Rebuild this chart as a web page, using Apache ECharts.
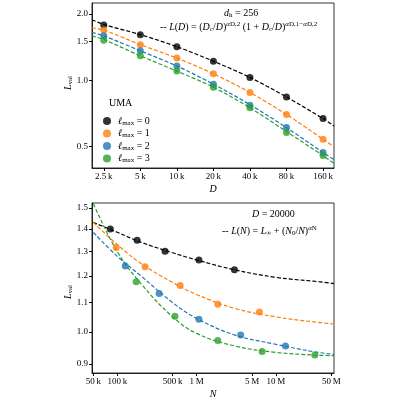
<!DOCTYPE html>
<html><head><meta charset="utf-8">
<script src="https://cdn.jsdelivr.net/npm/echarts@6/dist/echarts.min.js"></script>
<style>html,body{margin:0;padding:0;background:#fff}#c{width:400px;height:400px}</style>
</head><body><div id="c"></div>
<script>
// ---- top panel data ----
const D = [2500, 5000, 10000, 20000, 40000, 80000, 160000];
const topL0 = [1.78, 1.61, 1.42, 1.22, 1.03, 0.84, 0.67];
const topL1 = [1.69, 1.45, 1.26, 1.07, 0.88, 0.70, 0.54];
const topL2 = [1.59, 1.36, 1.16, 0.96, 0.77, 0.61, 0.47];
const topL3 = [1.52, 1.29, 1.10, 0.93, 0.75, 0.58, 0.456];
const fitD = [2000, 2500, 5000, 10000, 20000, 40000, 80000, 160000, 197000];
const fitTop0 = [1.88, 1.79, 1.61, 1.42, 1.22, 1.03, 0.84, 0.67, 0.62];
const fitTop1 = [1.73, 1.69, 1.45, 1.26, 1.07, 0.88, 0.70, 0.54, 0.50];
const fitTop2 = [1.65, 1.59, 1.36, 1.16, 0.96, 0.775, 0.61, 0.47, 0.437];
const fitTop3 = [1.59, 1.53, 1.29, 1.10, 0.93, 0.75, 0.585, 0.455, 0.42];
const topXTicks = [2500, 5000, 10000, 20000, 40000, 80000, 160000];
const topXLabels = ['2.5\u2009k', '5\u2009k', '10\u2009k', '20\u2009k', '40\u2009k', '80\u2009k', '160\u2009k'];
const topYTicks = [0.5, 1.0, 1.5, 2.0];
const topYLabels = ['0.5', '1.0', '1.5', '2.0'];
// ---- bottom panel data ----
const N0 = [81700, 178000, 400000, 1070000, 3000000];
const B0 = [1.40, 1.349, 1.302, 1.265, 1.225];
const N1 = [97000, 224000, 620000, 1850000, 6200000];
const B1 = [1.318, 1.237, 1.164, 1.094, 1.067];
const N2 = [126000, 337000, 1070000, 3600000, 13200000];
const B2 = [1.24, 1.134, 1.042, 0.99, 0.955];
const N3 = [173000, 534000, 1850000, 6700000, 31000000];
const B3 = [1.178, 1.052, 0.972, 0.938, 0.927];
const fitN = [50000, 100000, 200000, 500000, 1000000, 3000000, 10000000, 30000000, 54000000];
const fitB0 = [1.43, 1.385, 1.34, 1.295, 1.265, 1.225, 1.195, 1.18, 1.171];
const fitB1 = [1.43, 1.33, 1.25, 1.175, 1.13, 1.08, 1.05, 1.033, 1.026];
const fitB2 = [1.384, 1.28, 1.2, 1.1, 1.045, 0.99, 0.96, 0.937, 0.929];
const fitB3 = [1.52, 1.30, 1.17, 1.05, 0.995, 0.955, 0.935, 0.927, 0.925];
const botXTicks = [50000, 100000, 500000, 1000000, 5000000, 10000000, 50000000];
const botXLabels = ['50\u2009k', '100\u2009k', '500\u2009k', '1\u2009M', '5\u2009M', '10\u2009M', '50\u2009M'];
const botYTicks = [0.9, 1.0, 1.1, 1.2, 1.3, 1.4, 1.5];
const botYLabels = ['0.9', '1.0', '1.1', '1.2', '1.3', '1.4', '1.5'];

const lg = Math.log10;
const colors = ['#000000', '#ff7f0e', '#1f77b4', '#2ca02c'];
const FONT = 'Liberation Serif';
const pair = (xs, ys) => xs.map((x, i) => [lg(x), lg(ys[i])]);
function lab(ticks, labels) {
  const tv = ticks.map(lg);
  return v => { let b = 0; tv.forEach((t, i) => { if (Math.abs(t - v) < Math.abs(tv[b] - v)) b = i; }); return labels[b]; };
}
function axis(gi, ticks, labels, min, max, isX, name) {
  return {
    type: 'value', gridIndex: gi, min: lg(min), max: lg(max), name: name,
    nameLocation: 'middle', nameGap: 16,
    nameTextStyle: { fontFamily: FONT, fontStyle: 'italic', fontSize: 10, color: '#000' },
    axisLine: { show: true, onZero: false, lineStyle: { color: '#000', width: 0.8 } },
    axisTick: { show: true, length: 3, customValues: ticks.map(lg), lineStyle: { color: '#000' } },
    axisLabel: { customValues: ticks.map(lg), formatter: lab(ticks, labels), fontFamily: FONT, fontSize: 9, color: '#000', margin: 4 },
    splitLine: { show: false }
  };
}
const series = [];
const topPts = [topL0, topL1, topL2, topL3], topFits = [fitTop0, fitTop1, fitTop2, fitTop3];
const botNs = [N0, N1, N2, N3], botPts = [B0, B1, B2, B3], botFits = [fitB0, fitB1, fitB2, fitB3];
const names = ['l0', 'l1', 'l2', 'l3'];
for (let k = 0; k < 4; k++) {
  series.push({ type: 'scatter', name: names[k], xAxisIndex: 0, yAxisIndex: 0, data: pair(D, topPts[k]), symbolSize: 7, itemStyle: { color: colors[k] }, z: 3 });
  series.push({ type: 'line', xAxisIndex: 0, yAxisIndex: 0, data: pair(fitD, topFits[k]), smooth: 0.3, symbol: 'none', itemStyle: { color: colors[k] }, lineStyle: { color: colors[k], type: [4, 2], width: 1.2 }, z: 2 });
  series.push({ type: 'line', xAxisIndex: 1, yAxisIndex: 1, data: pair(fitN, botFits[k]), smooth: 0.4, symbol: 'none', itemStyle: { color: colors[k] }, lineStyle: { color: colors[k], type: [4, 2], width: 1.2 }, z: 2 });
  series.push({ type: 'scatter', xAxisIndex: 1, yAxisIndex: 1, data: pair(botNs[k], botPts[k]), symbolSize: 7, itemStyle: { color: colors[k] }, z: 3 });
}
const rich = { i: { fontFamily: FONT, fontStyle: 'italic', fontSize: 10, color: '#000' }, s: { fontFamily: FONT, fontSize: 7, color: '#000', padding: [4, 0, 0, 0] }, n: { fontFamily: FONT, fontSize: 10, color: '#000' }, u: { fontFamily: FONT, fontSize: 7, color: '#000', padding: [0, 0, 6, 0] }, ui: { fontFamily: FONT, fontStyle: 'italic', fontSize: 7, color: '#000', padding: [0, 0, 6, 0] } };
const chart = echarts.init(document.getElementById('c'));
chart.setOption({
  animation: false,
  color: colors,
  textStyle: { fontFamily: FONT },
  grid: [
    { left: 92, right: 66, top: 3, height: 165, show: true, borderColor: '#000', borderWidth: 0.8 },
    { left: 92, right: 66, top: 203, height: 173, show: true, borderColor: '#000', borderWidth: 0.8 }
  ],
  xAxis: [axis(0, topXTicks, topXLabels, 2000, 197000, true, 'D'), axis(1, botXTicks, botXLabels, 48000, 54000000, true, 'N')],
  yAxis: [axis(0, topYTicks, topYLabels, 0.40, 2.24, false, ''), axis(1, botYTicks, botYLabels, 0.874, 1.524, false, '')],
  legend: {
    left: 98, top: 111, orient: 'vertical', itemGap: 2, itemWidth: 12, itemHeight: 8,
    data: names.map(n => ({ name: n, icon: 'circle' })),
    formatter: n => '{i|\u2113}{s|max}{n| = ' + n.slice(1) + '}',
    textStyle: { rich: rich }
  },
  graphic: [
    { type: 'text', left: 109, top: 98, style: { text: 'UMA', font: '10px "Liberation Serif"', fill: '#000' } },
    { type: 'text', left: 224, top: 8, style: { text: '{i|d}{s|h}{n| = 256}', rich: rich } },
    { type: 'text', left: 160, top: 21, style: { text: '{n|-- }{i|L}{n|(}{i|D}{n|) = (}{i|D}{s|c}{n|/}{i|D}{n|)}{ui|α}{u|D,2}{n| (1 + }{i|D}{s|c}{n|/}{i|D}{n|)}{ui|α}{u|D,1}{u|−}{ui|α}{u|D,2}', rich: rich } },
    { type: 'text', left: 252, top: 209, style: { text: '{i|D}{n| = 20000}', rich: rich } },
    { type: 'text', left: 222, top: 225, style: { text: '{n|-- }{i|L}{n|(}{i|N}{n|) = }{i|L}{s|∞}{n| + (}{i|N}{s|0}{n|/}{i|N}{n|)}{ui|α}{u|N}', rich: rich } },
    { type: 'text', left: 63, top: 76, rotation: Math.PI / 2, style: { text: '{i|L}{s|val}', rich: rich } },
    { type: 'text', left: 63, top: 285, rotation: Math.PI / 2, style: { text: '{i|L}{s|val}', rich: rich } }
  ],
  series: series
});
</script></body></html>
